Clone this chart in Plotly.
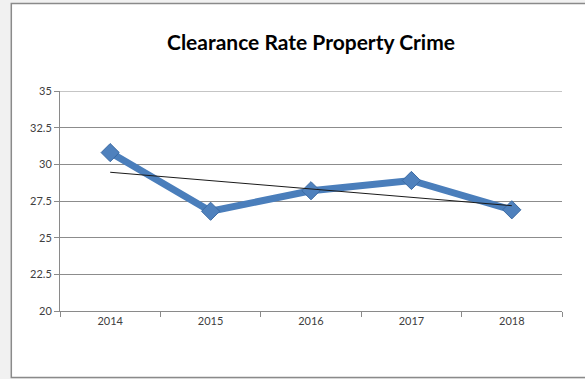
import numpy as np
import plotly.graph_objects as go

# Clearance rate for property crime by year
years = ["2014", "2015", "2016", "2017", "2018"]
rates = [30.8, 26.8, 28.2, 28.9, 26.9]

y_ticks = [20, 22.5, 25, 27.5, 30, 32.5, 35]

# Linear trend fitted over the series
idx = np.arange(len(years))
slope, intercept = np.polyfit(idx, rates, 1)
trend = slope * idx + intercept

fig = go.Figure()

fig.add_trace(go.Scatter(
    x=years, y=rates, mode="lines+markers",
    line=dict(color="#4a7ebb", width=7),
    marker=dict(symbol="diamond", size=14, color="#4f81bd",
                line=dict(color="#3b6aa3", width=1)),
    showlegend=False,
))

fig.add_trace(go.Scatter(
    x=years, y=trend, mode="lines",
    line=dict(color="#1a1a1a", width=1),
    showlegend=False,
))

# Chart frame on a light grey page
fig.add_shape(type="rect", xref="paper", yref="paper",
              x0=-0.097, x1=1.06, y0=-0.302, y1=1.398,
              fillcolor="white", line=dict(color="#8a8a8a", width=1.5),
              layer="below")

# Gridline along the top of the value range
fig.add_shape(type="line", xref="paper", yref="y",
              x0=0, x1=1, y0=y_ticks[-1], y1=y_ticks[-1],
              line=dict(color="#8c8c8c", width=1), layer="below")

fig.update_layout(
    width=585, height=379,
    margin=dict(l=60, r=23, t=91, b=68),
    paper_bgcolor="#f1f1f1",
    plot_bgcolor="rgba(0,0,0,0)",
    font=dict(family="Lato", size=11, color="#404040"),
    title=dict(text="<b>Clearance Rate Property Crime</b>",
               x=0.5, xref="paper", xanchor="center",
               y=1 - 43 / 379, yref="container", yanchor="middle",
               font=dict(family="Lato", size=21, color="#000000")),
)

fig.update_xaxes(
    type="category", tickson="boundaries",
    ticks="outside", ticklen=5, tickcolor="#8a8a8a",
    showline=True, linecolor="#8a8a8a", linewidth=1,
    showgrid=False, range=[-0.5, 4.5],
    tickfont=dict(size=11, color="#404040"),
)
fig.update_yaxes(
    range=[20, 35], tickvals=y_ticks,
    ticktext=[f"{v:g}" for v in y_ticks],
    ticks="outside", ticklen=5, tickcolor="#8a8a8a",
    showline=True, linecolor="#8a8a8a", linewidth=1,
    showgrid=True, gridcolor="#8c8c8c", gridwidth=1,
    zeroline=False,
    tickfont=dict(size=11, color="#404040"),
)

fig.write_html("out.html")
